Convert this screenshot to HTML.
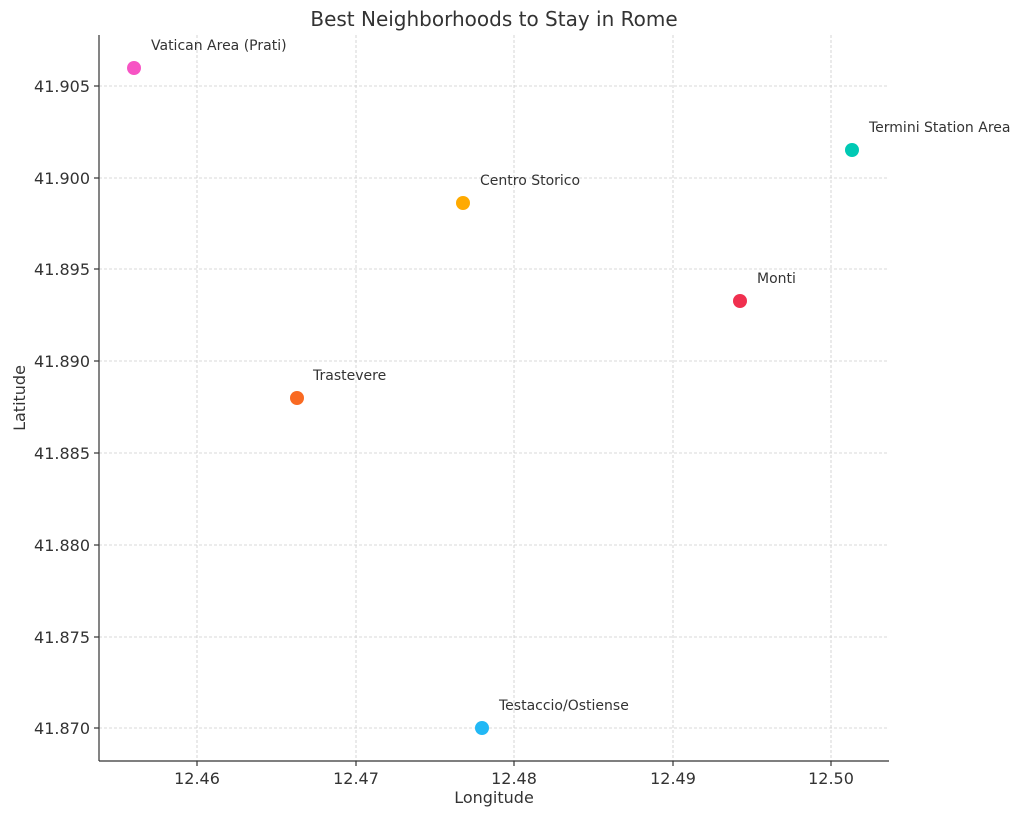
<!DOCTYPE html>
<html><head><meta charset="utf-8"><style>
body{margin:0;background:#fff;}
svg text{font-family:"DejaVu Sans","Liberation Sans",sans-serif;fill:#333;}
</style></head><body>
<svg width="1024" height="817" xmlns="http://www.w3.org/2000/svg">
<rect width="1024" height="817" fill="#fff"/>
<g stroke="#ccc" stroke-width="0.8" stroke-dasharray="3,2">
<line x1="197" y1="35" x2="197" y2="761"/><line x1="356" y1="35" x2="356" y2="761"/><line x1="514" y1="35" x2="514" y2="761"/><line x1="673" y1="35" x2="673" y2="761"/><line x1="831" y1="35" x2="831" y2="761"/>
<line x1="99" y1="86" x2="889" y2="86"/><line x1="99" y1="178" x2="889" y2="178"/><line x1="99" y1="269" x2="889" y2="269"/><line x1="99" y1="361" x2="889" y2="361"/><line x1="99" y1="453" x2="889" y2="453"/><line x1="99" y1="545" x2="889" y2="545"/><line x1="99" y1="637" x2="889" y2="637"/><line x1="99" y1="728" x2="889" y2="728"/>
</g>
<g stroke="#333" stroke-width="1.2">
<line x1="99" y1="35" x2="99" y2="761"/><line x1="99" y1="761" x2="889" y2="761"/>
<line x1="197" y1="761" x2="197" y2="766"/><line x1="356" y1="761" x2="356" y2="766"/><line x1="514" y1="761" x2="514" y2="766"/><line x1="673" y1="761" x2="673" y2="766"/><line x1="831" y1="761" x2="831" y2="766"/>
<line x1="94" y1="86" x2="99" y2="86"/><line x1="94" y1="178" x2="99" y2="178"/><line x1="94" y1="269" x2="99" y2="269"/><line x1="94" y1="361" x2="99" y2="361"/><line x1="94" y1="453" x2="99" y2="453"/><line x1="94" y1="545" x2="99" y2="545"/><line x1="94" y1="637" x2="99" y2="637"/><line x1="94" y1="728" x2="99" y2="728"/>
</g>
<g font-size="16" text-anchor="middle">
<text x="197" y="784">12.46</text><text x="356" y="784">12.47</text><text x="514" y="784">12.48</text><text x="673" y="784">12.49</text><text x="831" y="784">12.50</text>
</g>
<g font-size="16" text-anchor="end">
<text x="90" y="92">41.905</text><text x="90" y="184">41.900</text><text x="90" y="275">41.895</text><text x="90" y="367">41.890</text><text x="90" y="459">41.885</text><text x="90" y="551">41.880</text><text x="90" y="643">41.875</text><text x="90" y="734">41.870</text>
</g>
<text x="494" y="26" font-size="20" text-anchor="middle">Best Neighborhoods to Stay in Rome</text>
<text x="494" y="803" font-size="16" text-anchor="middle">Longitude</text>
<text x="25" y="398" font-size="16" text-anchor="middle" transform="rotate(-90 25 398)">Latitude</text>
<circle cx="134" cy="68" r="7" fill="#f754c4"/>
<circle cx="852" cy="150" r="7" fill="#00c9b4"/>
<circle cx="463" cy="203" r="7" fill="#ffaa00"/>
<circle cx="740" cy="301" r="7" fill="#f0304f"/>
<circle cx="297" cy="398" r="7" fill="#f96a22"/>
<circle cx="482" cy="728" r="7" fill="#22b8f5"/>
<g font-size="14">
<text x="151" y="50">Vatican Area (Prati)</text>
<text x="869" y="132">Termini Station Area</text>
<text x="480" y="185">Centro Storico</text>
<text x="757" y="283">Monti</text>
<text x="313" y="380">Trastevere</text>
<text x="499" y="710">Testaccio/Ostiense</text>
</g>
</svg>
</body></html>
